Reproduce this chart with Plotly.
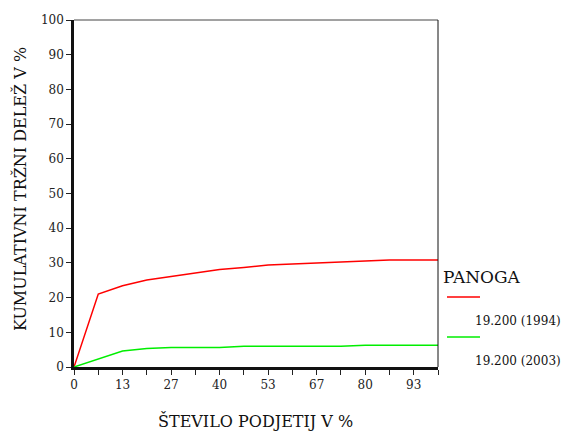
import plotly.graph_objects as go

# Share of companies (x, %) and cumulative market share (y, %)
x_steps = [i * 100 / 15 for i in range(16)]
share_1994 = [0, 21.0, 23.4, 25.1, 26.1, 27.1, 28.1, 28.7, 29.4, 29.7, 30.0, 30.3, 30.4, 30.8, 30.8, 30.8]
share_2003 = [0, 2.4, 4.6, 5.3, 5.6, 5.6, 5.6, 6.0, 6.0, 6.0, 6.0, 6.0, 6.3, 6.3, 6.3, 6.3]
series_names = ["19.200 (1994)", "19.200 (2003)"]
series_colors = ["#ff0000", "#00ee00"]
x_labels = ["0", "", "13", "", "27", "", "40", "", "53", "", "67", "", "80", "", "93", ""]
y_ticks = list(range(0, 101, 10))

FONT = "DejaVu Serif"

fig = go.Figure()
for name, vals, col in zip(series_names, [share_1994, share_2003], series_colors):
    fig.add_trace(go.Scatter(x=x_steps, y=vals, mode="lines", name=name,
                             line=dict(color=col, width=1.5), showlegend=False))

fig.update_layout(
    width=561, height=431,
    margin=dict(l=74, r=123, t=20, b=64),
    paper_bgcolor="white", plot_bgcolor="white",
    font=dict(family=FONT, size=12, color="#222"),
    xaxis=dict(range=[0, 100], tickmode="array", tickvals=x_steps, ticktext=x_labels,
               ticks="outside", ticklen=5, tickcolor="#222", showgrid=False, zeroline=False,
               showline=True, linecolor="#111", linewidth=2.5,
               tickfont=dict(family=FONT, size=12)),
    yaxis=dict(range=[0, 100], tickmode="array", tickvals=y_ticks,
               ticks="outside", ticklen=5, tickcolor="#222", showgrid=False, zeroline=False,
               showline=True, linecolor="#111", linewidth=2.5,
               tickfont=dict(family=FONT, size=12)),
)

# Frame: thin top and right borders
fig.add_shape(type="line", xref="paper", yref="paper", x0=0, x1=1, y0=1, y1=1,
              line=dict(color="#444", width=1))
fig.add_shape(type="line", xref="paper", yref="paper", x0=1, x1=1, y0=0, y1=1,
              line=dict(color="#111", width=1))

# Axis titles
fig.add_annotation(text="ŠTEVILO PODJETIJ V %", xref="paper", yref="paper",
                   x=(255 - 74) / 364, y=(367 - 421) / 347, showarrow=False,
                   font=dict(size=16, family=FONT, color="#111"), yanchor="middle")
fig.add_annotation(text="KUMULATIVNI TRŽNI DELEŽ V %", xref="paper", yref="paper",
                   x=(20 - 74) / 364, y=(367 - 189) / 347, showarrow=False, textangle=-90,
                   font=dict(size=16, family=FONT, color="#111"), xanchor="center")

# Legend drawn beside the plot
def px(xp):
    return (xp - 74) / 364

def py(yp):
    return (367 - yp) / 347

fig.add_annotation(text="PANOGA", xref="paper", yref="paper", x=px(441), y=py(277),
                   xanchor="left", yanchor="middle", showarrow=False,
                   font=dict(size=17, family=FONT, color="#111"))
for i, (name, col) in enumerate(zip(series_names, series_colors)):
    ly = 297 + i * 40
    fig.add_shape(type="line", xref="paper", yref="paper", x0=px(447), x1=px(480),
                  y0=py(ly), y1=py(ly), line=dict(color=col, width=1.5))
    fig.add_annotation(text=name, xref="paper", yref="paper", x=px(473), y=py(ly + 24),
                       xanchor="left", yanchor="middle", showarrow=False,
                       font=dict(size=12, family=FONT, color="#111"))

fig.write_html("out.html")
